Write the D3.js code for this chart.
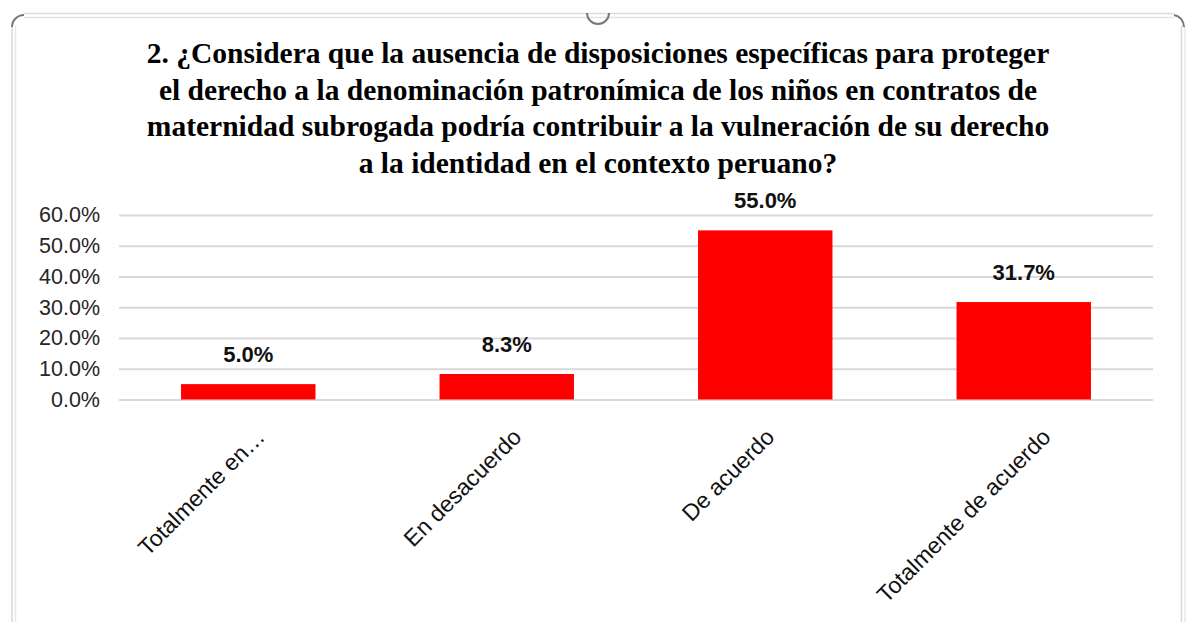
<!DOCTYPE html>
<html>
<head>
    <meta charset="utf-8" />
    <title>Encuesta 2</title>
    <style>
        body { margin: 0; background: #fff; overflow: hidden; }
        svg { display: block; }
    </style>
</head>
<body>
    <div id="chart"></div>
    <script src="https://cdn.jsdelivr.net/npm/d3@7/dist/d3.min.js"></script>
    <script>
        // datos
        var categorias = ["Totalmente en…", "En desacuerdo", "De acuerdo", "Totalmente de acuerdo"];
        var porcentajes = [5.0, 8.3, 55.0, 31.7];
        var ticksY = [0, 10, 20, 30, 40, 50, 60];
        var tituloLineas = [
            "2. ¿Considera que la ausencia de disposiciones específicas para proteger",
            "el derecho a la denominación patronímica de los niños en contratos de",
            "maternidad subrogada podría contribuir a la vulneración de su derecho",
            "a la identidad en el contexto peruano?"
        ];

        var W = 1186, H = 622;
        var left = 119, right = 1153, y0 = 399.5, yTop = 215;

        var svg = d3.select("#chart").append("svg")
            .attr("width", W)
            .attr("height", H);

        // marco del grafico (bordes de excel)
        var marco = svg.append("g").attr("fill", "none");
        marco.append("line").attr("x1", 24).attr("x2", 1174).attr("y1", 13.5).attr("y2", 13.5).attr("stroke", "#dcdcdc").attr("stroke-width", 1.5);
        marco.append("line").attr("x1", 24).attr("x2", 1174).attr("y1", 17.5).attr("y2", 17.5).attr("stroke", "#e4e4e4").attr("stroke-width", 1.5);
        marco.append("line").attr("x1", 12).attr("x2", 12).attr("y1", 26).attr("y2", H).attr("stroke", "#d8d8d8").attr("stroke-width", 1.5);
        marco.append("line").attr("x1", 15.5).attr("x2", 15.5).attr("y1", 26).attr("y2", H).attr("stroke", "#e8e8e8").attr("stroke-width", 1.5);
        marco.append("line").attr("x1", 1181.5).attr("x2", 1181.5).attr("y1", 26).attr("y2", H).attr("stroke", "#d8d8d8").attr("stroke-width", 1.5);
        marco.append("line").attr("x1", 1185).attr("x2", 1185).attr("y1", 26).attr("y2", H).attr("stroke", "#e8e8e8").attr("stroke-width", 1.5);
        // manejadores de las esquinas y del centro
        marco.append("path").attr("d", "M12,27 A12,12 0 0 1 24,15").attr("stroke", "#777").attr("stroke-width", 2);
        marco.append("path").attr("d", "M1174,15 A12,12 0 0 1 1184,27").attr("stroke", "#777").attr("stroke-width", 2);
        marco.append("path").attr("d", "M587,13 A11,11 0 0 0 609,13").attr("stroke", "#777").attr("stroke-width", 2);

        // titulo
        svg.append("text")
            .attr("x", 598)
            .attr("y", 63)
            .attr("text-anchor", "middle")
            .style("font-family", "'Liberation Serif', 'Times New Roman', serif")
            .style("font-weight", "bold")
            .style("font-size", "29.5px")
            .attr("fill", "#000")
            .selectAll("tspan")
            .data(tituloLineas)
            .enter()
            .append("tspan")
            .attr("x", 598)
            .attr("dy", function (d, i) { return i == 0 ? 0 : 36.7; })
            .text(function (d) { return d; });

        var y = d3.scaleLinear().domain([0, 60]).range([y0, yTop]);
        var x = d3.scaleBand().domain(categorias).range([left, right]).paddingInner(0.48).paddingOuter(0.24);

        // lineas de division
        var ejeY = d3.axisLeft(y)
            .tickValues(ticksY)
            .tickSize(-(right - left))
            .tickPadding(19)
            .tickFormat(function (d) { return d.toFixed(1) + "%"; });

        var gY = svg.append("g")
            .attr("transform", "translate(" + left + ",0)")
            .call(ejeY);
        gY.select(".domain").remove();
        gY.selectAll(".tick line").attr("stroke", "#d9d9d9").attr("stroke-width", 2);
        gY.selectAll(".tick text")
            .attr("fill", "#262626")
            .style("font-family", "'Liberation Sans', Arial, sans-serif")
            .style("font-size", "21.5px");

        // barras
        svg.append("g").selectAll("rect")
            .data(porcentajes)
            .enter()
            .append("rect")
            .attr("x", function (d, i) { return x(categorias[i]); })
            .attr("y", function (d) { return y(d); })
            .attr("width", x.bandwidth())
            .attr("height", function (d) { return y0 - y(d); })
            .attr("fill", "#ff0000");

        // etiquetas de datos
        svg.append("g").selectAll("text")
            .data(porcentajes)
            .enter()
            .append("text")
            .attr("x", function (d, i) { return x(categorias[i]) + x.bandwidth() / 2; })
            .attr("y", function (d) { return y(d) - 22; })
            .attr("text-anchor", "middle")
            .style("font-family", "'Liberation Sans', Arial, sans-serif")
            .style("font-weight", "bold")
            .style("font-size", "22px")
            .attr("fill", "#111")
            .text(function (d) { return d.toFixed(1) + "%"; });

        // categorias giradas -45
        var etiquetas = svg.append("g").selectAll("text")
            .data(categorias)
            .enter()
            .append("text")
            .attr("text-anchor", "end")
            .style("font-family", "'Liberation Sans', Arial, sans-serif")
            .style("font-size", "23px")
            .attr("fill", "#111")
            .text(function (d) { return d; });

        etiquetas.attr("transform", function (d) {
            var largo = this.getComputedTextLength();
            var cx = x(d) + x.bandwidth() / 2 + 0.155 * largo - 8;
            return "translate(" + cx + "," + (y0 + 39) + ") rotate(-45)";
        });
    </script>
</body>
</html>
